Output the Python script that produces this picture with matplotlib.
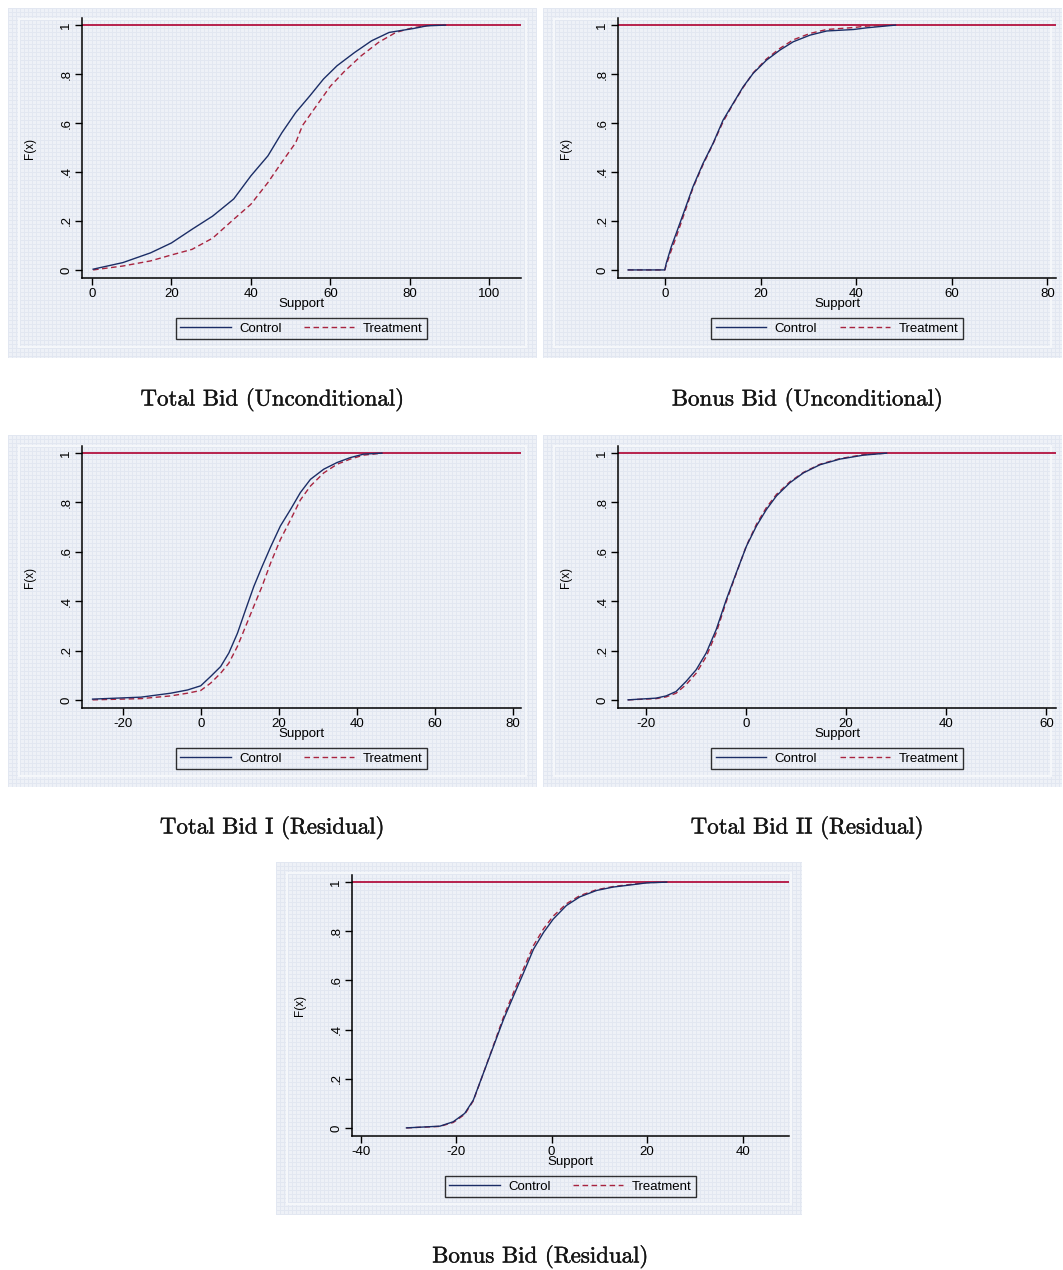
import numpy as np
import matplotlib
matplotlib.use("Agg")
import matplotlib.pyplot as plt
import matplotlib.patheffects as pe

W, H = 1063, 1270

# empirical CDFs (support value, F(x)) for each outcome
tb_x_ctrl = [0.3, 7.8, 14.8, 20, 25.2, 30.4, 35.7, 40, 44.3, 47.8, 51.3, 54.8, 58.3, 61.7, 66.1, 70.4, 74.8, 80.9, 84.3, 89]
tb_F_ctrl = [0.003, 0.03, 0.07, 0.11, 0.166, 0.22, 0.29, 0.384, 0.466, 0.56, 0.643, 0.71, 0.78, 0.834, 0.888, 0.936, 0.97, 0.986, 0.997, 1.0]
tb_x_treat = [0.3, 7.8, 14.8, 20, 25.2, 30.4, 35.7, 40, 44.3, 47.8, 51.3, 53, 56.5, 60, 63.5, 67.8, 72.2, 76.5, 80.9, 85.2, 88.7]
tb_F_treat = [0.0, 0.016, 0.037, 0.061, 0.084, 0.13, 0.207, 0.268, 0.357, 0.44, 0.52, 0.59, 0.67, 0.75, 0.81, 0.875, 0.93, 0.97, 0.99, 0.999, 1.0]

bb_x_ctrl = [-7.8, -0.1, 0.2, 1.26, 2.3, 4.06, 5.8, 7.9, 10, 12.1, 14.2, 16.3, 18.4, 21.2, 24, 26.8, 30.3, 33.8, 39.4, 42.2, 48.2]
bb_F_ctrl = [0, 0, 0.027, 0.095, 0.15, 0.245, 0.34, 0.435, 0.517, 0.612, 0.68, 0.748, 0.803, 0.857, 0.898, 0.932, 0.959, 0.976, 0.982, 0.989, 1.0]
bb_x_treat = [-7.8, -0.1, 0.2, 1.26, 2.3, 4.06, 5.8, 7.9, 10, 12.1, 14.2, 16.3, 18.4, 21.2, 24, 26.8, 30.3, 33.8, 39.4, 42.2, 47.5]
bb_F_treat = [0, 0, 0.02, 0.08, 0.135, 0.235, 0.335, 0.43, 0.515, 0.605, 0.678, 0.745, 0.805, 0.862, 0.905, 0.94, 0.966, 0.982, 0.99, 0.996, 1.0]

tb1_x = [-27.7, -15.3, -7.7, -3.4, 0, 2.55, 5.1, 7.2, 9.4, 11.5, 13.6, 15.7, 17.9, 20.4, 23, 25.5, 28.1, 31.5, 34.9, 38.3, 41.7, 46.4]
tb1_F_ctrl = [0.003, 0.011, 0.027, 0.04, 0.057, 0.095, 0.135, 0.19, 0.27, 0.366, 0.46, 0.54, 0.62, 0.705, 0.772, 0.84, 0.894, 0.935, 0.962, 0.982, 0.996, 1.0]
tb1_F_treat = [0.0, 0.005, 0.016, 0.027, 0.038, 0.068, 0.108, 0.149, 0.217, 0.298, 0.38, 0.46, 0.555, 0.65, 0.73, 0.81, 0.867, 0.92, 0.955, 0.976, 0.992, 1.0]

tb2_x = [-23.5, -17.9, -15.9, -13.9, -11.9, -9.9, -7.9, -5.9, -3.9, -1.9, 0.13, 2.13, 4.13, 6.13, 8.8, 11.5, 14.8, 18.8, 23.5, 28.1]
tb2_F_ctrl = [0.0, 0.007, 0.016, 0.034, 0.075, 0.122, 0.19, 0.285, 0.406, 0.515, 0.623, 0.705, 0.772, 0.827, 0.88, 0.92, 0.953, 0.976, 0.992, 1.0]
tb2_F_treat = [0.0, 0.005, 0.012, 0.027, 0.062, 0.108, 0.175, 0.272, 0.398, 0.512, 0.625, 0.712, 0.78, 0.833, 0.884, 0.922, 0.955, 0.978, 0.994, 1.0]

br_x = [-30.4, -23.4, -20.6, -18.2, -16.4, -14.3, -12.2, -10.1, -8, -5.9, -3.8, -1.7, 0.35, 3.1, 5.9, 9.4, 12.9, 17.1, 19.9, 24.1]
br_F_ctrl = [0.0, 0.007, 0.025, 0.059, 0.113, 0.222, 0.331, 0.44, 0.536, 0.63, 0.727, 0.795, 0.85, 0.905, 0.94, 0.966, 0.98, 0.99, 0.997, 1.0]
br_F_treat = [0.0, 0.006, 0.022, 0.055, 0.11, 0.222, 0.335, 0.45, 0.55, 0.647, 0.742, 0.81, 0.862, 0.912, 0.945, 0.969, 0.982, 0.992, 0.998, 1.0]

y_ticks = [0, 0.2, 0.4, 0.6, 0.8, 1]
y_ticklabels = ["0", ".2", ".4", ".6", ".8", "1"]

titles = ["Total Bid (Unconditional)", "Bonus Bid (Unconditional)",
          "Total Bid I (Residual)", "Total Bid II (Residual)",
          "Bonus Bid (Residual)"]

panels = [
    dict(box=(8, 8, 537, 358), ax=(82, 521, 18, 278), xlim=(-2.5, 108),
         xticks=[0, 20, 40, 60, 80, 100],
         ctrl=(tb_x_ctrl, tb_F_ctrl), treat=(tb_x_treat, tb_F_treat), cap=(272, 400)),
    dict(box=(543, 8, 1062, 358), ax=(618, 1056, 18, 278), xlim=(-9.9, 81.8),
         xticks=[0, 20, 40, 60, 80],
         ctrl=(bb_x_ctrl, bb_F_ctrl), treat=(bb_x_treat, bb_F_treat), cap=(807, 400)),
    dict(box=(8, 435, 537, 787), ax=(82, 521, 446, 708), xlim=(-30.4, 82),
         xticks=[-20, 0, 20, 40, 60, 80],
         ctrl=(tb1_x, tb1_F_ctrl), treat=(tb1_x, tb1_F_treat), cap=(272, 828)),
    dict(box=(543, 435, 1062, 787), ax=(618, 1056, 446, 708), xlim=(-25.5, 61.9),
         xticks=[-20, 0, 20, 40, 60],
         ctrl=(tb2_x, tb2_F_ctrl), treat=(tb2_x, tb2_F_treat), cap=(807, 828)),
    dict(box=(276, 862, 802, 1215), ax=(352, 789, 875, 1136), xlim=(-41.8, 49.7),
         xticks=[-40, -20, 0, 20, 40],
         ctrl=(br_x, br_F_ctrl), treat=(br_x, br_F_treat), cap=(540, 1257)),
]

CTRL = "#1b2d66"
TREAT = "#a8243f"
HLINE = "#b3123f"

plt.rcParams["font.family"] = ["Liberation Sans", "DejaVu Sans"]

fig = plt.figure(figsize=(W / 100, H / 100), dpi=100)

# panel backgrounds with the fine bluish grid texture
bg = np.ones((H, W, 3))
base = np.array([238, 241, 247]) / 255
line = np.array([226, 231, 241]) / 255
inner = np.array([245, 247, 250]) / 255
for p in panels:
    x0, y0, x1, y1 = p["box"]
    bg[y0:y1, x0:x1] = base
    bg[y0:y1:4, x0:x1] = line
    bg[y0:y1, x0:x1:4] = line
    # lighter frame just inside the panel edge
    bg[y0 + 10:y0 + 12, x0 + 10:x1 - 10] = inner
    bg[y1 - 12:y1 - 10, x0 + 10:x1 - 10] = inner
    bg[y0 + 10:y1 - 10, x0 + 10:x0 + 12] = inner
    bg[y0 + 10:y1 - 10, x1 - 12:x1 - 10] = inner
bgax = fig.add_axes([0, 0, 1, 1])
bgax.imshow(bg, aspect="auto", interpolation="nearest")
bgax.axis("off")

ylo, yhi = -0.033, 1.029

for p, title in zip(panels, titles):
    l, r, t, b = p["ax"]
    ax = fig.add_axes([l / W, 1 - b / H, (r - l) / W, (b - t) / H])
    ax.set_facecolor("none")
    ax.axhline(1, color=HLINE, lw=1.3, zorder=1)
    ax.plot(*p["ctrl"], color=CTRL, lw=1.0, label="Control", zorder=3)
    ax.plot(*p["treat"], color=TREAT, lw=1.0, ls=(0, (4, 2.5)), label="Treatment", zorder=2)
    ax.set_xlim(*p["xlim"])
    ax.set_ylim(ylo, yhi)
    for s in ("top", "right"):
        ax.spines[s].set_visible(False)
    for s in ("left", "bottom"):
        ax.spines[s].set_linewidth(1.1)
    ax.set_xticks(p["xticks"])
    ax.set_xticklabels([str(v) for v in p["xticks"]])
    ax.set_yticks(y_ticks)
    ax.set_yticklabels(y_ticklabels, rotation=90, va="center")
    ax.tick_params(length=5, width=1, labelsize=9.5, pad=2)
    ax.set_xlabel("Support", fontsize=9.5, labelpad=0)
    ax.xaxis.set_label_coords(0.5, -0.078)
    ax.text(-52 / (r - l), 0.5, "F(x)", transform=ax.transAxes, rotation=90,
            ha="center", va="center", fontsize=8.5)
    leg = ax.legend(loc="upper center", bbox_to_anchor=(0.5, -40 / (b - t)), ncol=2,
                    frameon=True, fancybox=False, fontsize=9.5, handlelength=3.8,
                    columnspacing=1.7, borderpad=0.35, handletextpad=0.65,
                    borderaxespad=0)
    leg.get_frame().set_edgecolor("black")
    leg.get_frame().set_linewidth(1.0)
    leg.get_frame().set_facecolor("none")
    cx, cy = p["cap"]
    fig.text(cx / W, 1 - cy / H, title, ha="center", va="center",
             family="cmr10", fontsize=16.5, color="#151515",
             path_effects=[pe.withStroke(linewidth=0.3, foreground="#151515")])

fig.savefig("out.png", dpi=100)
